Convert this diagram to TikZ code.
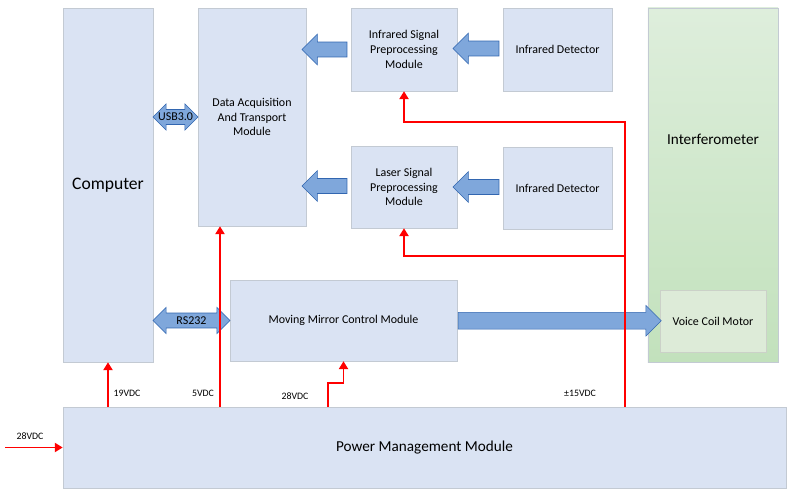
\documentclass[tikz,border=0pt]{standalone}
\usepackage{fontspec}
\setmainfont{Carlito}
\usepackage{tikz}
\usetikzlibrary{arrows.meta,shapes.arrows,positioning,calc}

\definecolor{boxfill}{HTML}{DAE3F3}
\definecolor{boxline}{HTML}{C3CAD3}
\definecolor{arrfill}{HTML}{7FA7DB}
\definecolor{arrline}{HTML}{3266B0}
\definecolor{greentop}{HTML}{DEEEDC}
\definecolor{greenbot}{HTML}{C2E1BC}
\definecolor{vcmfill}{HTML}{DDEBD8}
\definecolor{vcmline}{HTML}{CBD1C8}
\definecolor{pwrred}{HTML}{FF0000}

\begin{document}
\begin{tikzpicture}[
  x=0.025cm, y=-0.025cm,
  every node/.style={font=\fontsize{8.5}{10.5}\selectfont},
  block/.style={draw=boxline, fill=boxfill, align=center, inner sep=2pt},
  fatarrow/.style={single arrow, draw=arrline, fill=arrfill, thin,
    inner xsep=0pt, inner ysep=0.18cm, single arrow head extend=0.2cm},
  twinarrow/.style={double arrow, draw=arrline, fill=arrfill, thin,
    inner xsep=0pt, inner ysep=0.18cm, double arrow head extend=0.14cm},
  pwr/.style={pwrred, line width=1pt, -{Triangle[length=5.5pt, width=6.5pt]}},
  volt/.style={font=\fontsize{7}{8}\selectfont},
]
\useasboundingbox (0,0) rectangle (796,497);

%% ── Blocks ─────────────────────────────────────────────────────────────────
\node[block, minimum width=2.25cm, minimum height=8.85cm,
      font=\fontsize{12.5}{14}\selectfont] (comp) at (108,185) {Computer};
\node[block, minimum width=2.7cm, minimum height=5.45cm] (daq) at (252,117)
  {Data Acquisition\\And Transport\\Module};
\node[block, minimum width=2.65cm, minimum height=2.075cm] (irpre) at (404,49.5)
  {Infrared Signal\\Preprocessing\\Module};
\node[block, minimum width=2.725cm, minimum height=2.075cm] (irdet1) at (557.5,49.5)
  {Infrared Detector};
\node[block, minimum width=2.65cm, minimum height=2.05cm] (laspre) at (404,187)
  {Laser Signal\\Preprocessing\\Module};
\node[block, minimum width=2.725cm, minimum height=2.05cm] (irdet2) at (557.5,188)
  {Infrared Detector};
\node[block, minimum width=5.675cm, minimum height=2.025cm] (mmc) at (343.5,320.5)
  {Moving Mirror Control Module};
\node[block, minimum width=18.075cm, minimum height=2.025cm,
      font=\fontsize{10.8}{12}\selectfont] (pmm) at (424.5,447.5)
  {Power Management Module};

%% Interferometer with the motor inside
\node[draw=boxline, top color=greentop, bottom color=greenbot,
      minimum width=3.25cm, minimum height=8.85cm] (interf) at (713,185) {};
\node[font=\fontsize{10.8}{12}\selectfont] (interflbl) at (713,139) {Interferometer};
\node[draw=vcmline, fill=vcmfill, minimum width=2.65cm, minimum height=1.55cm]
  (vcm) at (713,321) {Voice Coil Motor};

%% ── Signal arrows ──────────────────────────────────────────────────────────
\node[fatarrow, shape border rotate=180, minimum height=1.125cm]
  (irtodaq) at ($(irpre.west)+(-22.5,0)$) {};
\node[fatarrow, shape border rotate=180, minimum height=1.15cm]
  (dettoir) at ($(irdet1.west)+(-23,-1)$) {};
\node[fatarrow, shape border rotate=180, minimum height=1.125cm]
  (lastodaq) at ($(laspre.west)+(-22.5,-1)$) {};
\node[fatarrow, shape border rotate=180, minimum height=1.15cm]
  (dettolas) at ($(irdet2.west)+(-23,-1)$) {};
\node[fatarrow, inner ysep=0.2cm, single arrow head extend=0.175cm,
      minimum height=5.075cm]
  (mmctovcm) at ($(mmc.east)!0.5!(vcm.west)+(-3,0)$) {};

%% bus links to the computer
\node[twinarrow, minimum height=1.125cm,
      label={center:USB3.0}] (usb) at ($(comp.east |- daq.west)!0.5!(daq.west)$) {};
\node[twinarrow, minimum height=1.925cm,
      label={center:RS232}] (rs) at ($(comp.east |- mmc.west)!0.5!(mmc.west)$) {};

%% ── Power lines ────────────────────────────────────────────────────────────
\coordinate (pwrin) at (5,447.5);
\draw[pwr] (pwrin) -- (pmm.west);
\node[volt] (vin) at (30,436) {28VDC};

\draw[pwr] (comp.south |- pmm.north) -- (comp.south);
\node[volt] (v19) at (127,393) {19VDC};

\draw[pwr] (220,0 |- pmm.north) -- (220,0 |- daq.south);
\node[volt] (v5) at (203,393) {5VDC};

\draw[pwr] (328,0 |- pmm.north) -- (328,383) -| (mmc.south);
\node[volt] (v28) at (295,396) {28VDC};

\coordinate (j15) at (625,256);
\draw[pwr] (625,0 |- pmm.north) -- (625,122) -| (irpre.south);
\draw[pwr] (j15) -| (laspre.south);
\node[volt] (v15) at (580,393) {±15VDC};

\end{tikzpicture}
\end{document}
